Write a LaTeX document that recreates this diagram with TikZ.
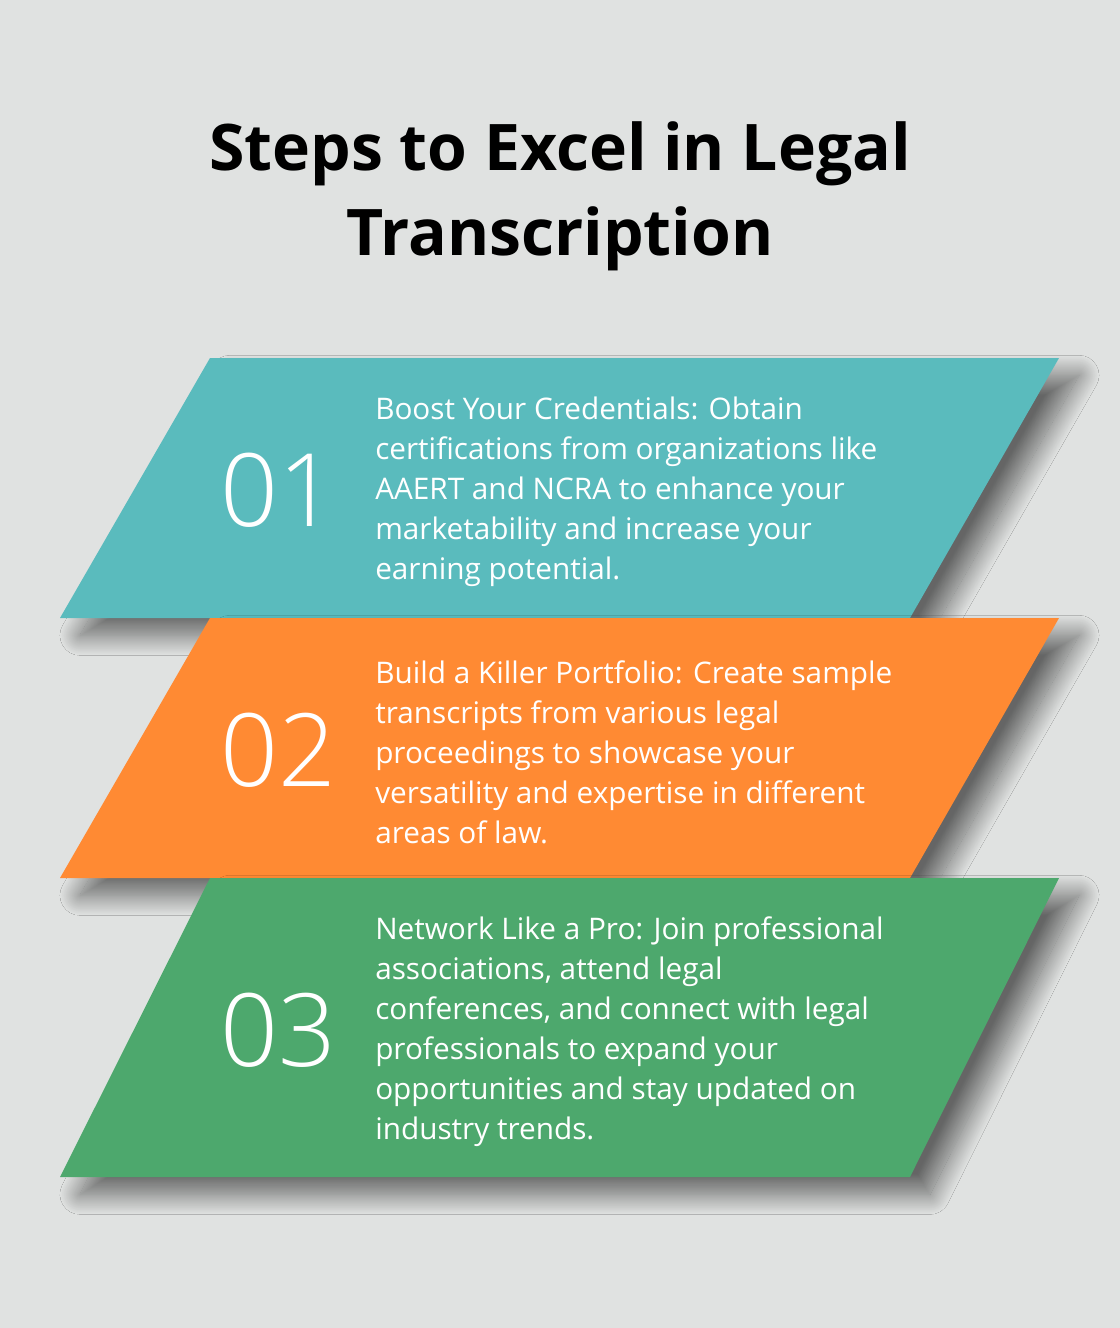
\documentclass[tikz,border=0pt]{standalone}
\usepackage{fontspec}
\setmainfont{Open Sans}
\newfontfamily\numfont{Open Sans Light}
\usepackage{xcolor}
\usetikzlibrary{positioning,calc,shadows.blur}

\definecolor{bgcol}{HTML}{E0E2E1}
\definecolor{tealcol}{HTML}{5ABBBD}
\definecolor{orangecol}{HTML}{FF8A33}
\definecolor{greencol}{HTML}{4DA86D}

\tikzset{
  stepbox/.style={blur shadow={shadow xshift=15pt,shadow yshift=-13pt,shadow blur radius=15pt,shadow blur steps=40,shadow opacity=55}},
  numtext/.style={text=white,anchor=west,inner sep=0pt,font=\numfont\fontsize{76}{76}\selectfont},
  bodytext/.style={text=white,anchor=west,align=left,inner sep=0pt,font=\fontsize{22.3}{30}\selectfont},
  titletext/.style={align=center,inner sep=0pt,font=\bfseries\fontsize{48.2}{63.75}\selectfont}
}

\begin{document}
\begin{tikzpicture}[x=0.75pt,y=-0.75pt]
    \fill[bgcol] (0,0) rectangle (1120,1328);
    \useasboundingbox (0,0) rectangle (1120,1328);
    % title
    \node[titletext] (title) at (560,196) {Steps to Excel in Legal\\Transcription};
    % step 1
    \fill[tealcol,stepbox] (210,358) -- (1059,358) -- (910,618) -- (60,618) -- cycle;
    \node[numtext] (n1) at (220,490) {01};
    \node[bodytext] (t1) at (375,492) {Boost Your Credentials: Obtain\\certifications from organizations like\\AAERT and NCRA to enhance your\\marketability and increase your\\earning potential.};
    % step 2
    \fill[orangecol,stepbox] (210,618) -- (1059,618) -- (910,878) -- (60,878) -- cycle;
    \node[numtext] (n2) at (220,750) {02};
    \node[bodytext] (t2) at (375,752) {Build a Killer Portfolio: Create sample\\transcripts from various legal\\proceedings to showcase your\\versatility and expertise in different\\areas of law.};
    % step 3
    \fill[greencol,stepbox] (210,878) -- (1059,878) -- (910,1177) -- (60,1177) -- cycle;
    \node[numtext] (n3) at (220,1030) {03};
    \node[bodytext] (t3) at (375,1032) {Network Like a Pro: Join professional\\associations, attend legal\\conferences, and connect with legal\\professionals to expand your\\opportunities and stay updated on\\industry trends.};
\end{tikzpicture}
\end{document}
